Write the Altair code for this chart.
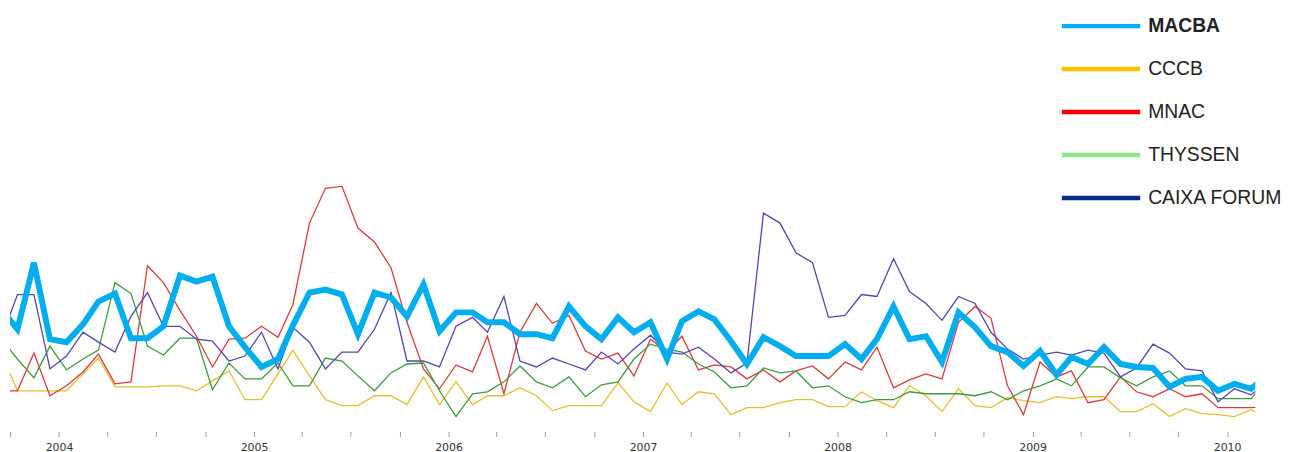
import altair as alt
import pandas as pd

# Mid-month points, Sep 2003 .. Mar 2010 (first/last clipped by the x domain)
MONTHS = [(pd.Timestamp("2003-09-01") + pd.DateOffset(months=k) + pd.Timedelta(days=14)).strftime("%Y-%m-%d")
          for k in range(79)]

SERIES = ["MACBA", "CCCB", "MNAC", "THYSSEN", "CAIXA FORUM"]
LINE_COLORS = ["#00AEEF", "#E8BE30", "#D93B3B", "#3E9A3E", "#5544B0"]
LEGEND_COLORS = ["#00B0F0", "#FFC000", "#FF0000", "#8EE88E", "#0B2A84"]

macba = [120, 100, 167, 90, 87, 105, 128, 136, 91, 91, 103, 154, 148, 153, 103, 82, 62, 70, 104, 137,
         140, 135, 95, 137, 132, 113, 145, 98, 117, 117, 107, 107, 95, 95, 91, 123, 103, 90, 112, 97,
         107, 70, 108, 118, 110, 88, 65, 92, 83, 73, 73, 73, 85, 70, 90, 123, 90, 93, 67, 117,
         102, 83, 77, 63, 78, 54, 72, 65, 82, 65, 62, 61, 42, 50, 52, 38, 45, 40, 52]
cccb = [76, 38, 38, 38, 38, 55, 71, 42, 42, 42, 43, 43, 38, 48, 58, 29, 29, 55, 79, 53,
        29, 23, 23, 33, 33, 24, 52, 24, 47, 24, 33, 33, 41, 33, 18, 23, 23, 23, 46, 27,
        17, 46, 24, 37, 35, 14, 21, 21, 26, 29, 29, 22, 22, 37, 28, 21, 43, 33, 17, 40,
        23, 21, 31, 28, 26, 32, 30, 32, 32, 17, 17, 25, 12, 20, 15, 14, 12, 19, 10]
mnac = [38, 38, 76, 33, 43, 57, 75, 45, 47, 164, 147, 119, 93, 62, 90, 91, 103, 92, 125, 207,
        242, 244, 202, 188, 162, 107, 60, 40, 64, 57, 93, 35, 97, 126, 106, 114, 78, 70, 76, 53,
        90, 77, 93, 59, 64, 62, 50, 59, 47, 58, 63, 50, 67, 59, 82, 41, 49, 55, 50, 107,
        123, 111, 43, 14, 67, 52, 58, 26, 29, 52, 37, 32, 40, 32, 35, 21, 21, 21, 22]
thyssen = [90, 70, 51, 83, 59, 70, 79, 147, 136, 83, 74, 91, 91, 39, 66, 50, 50, 66, 43, 43,
           71, 68, 53, 38, 56, 65, 66, 38, 12, 35, 37, 47, 63, 47, 41, 52, 32, 44, 47, 70,
           85, 80, 77, 65, 57, 41, 43, 61, 56, 58, 41, 43, 32, 26, 29, 29, 37, 35, 35, 35,
           33, 37, 29, 38, 43, 50, 43, 62, 62, 51, 43, 52, 58, 43, 43, 30, 30, 30, 48]
caixa = [91, 135, 135, 60, 73, 97, 87, 77, 113, 137, 103, 103, 90, 88, 68, 73, 97, 60, 102, 87,
         60, 77, 77, 100, 137, 68, 68, 62, 103, 112, 97, 133, 68, 62, 71, 65, 59, 77, 65, 80,
         94, 77, 75, 82, 70, 56, 66, 217, 207, 177, 167, 112, 114, 135, 133, 171, 138, 126, 109, 133,
         126, 97, 80, 70, 74, 77, 74, 79, 76, 52, 61, 85, 76, 60, 58, 27, 40, 34, 46]

QUARTER_TICKS = [(y, m) for y in range(2003, 2011) for m in (1, 4, 7, 10)
                 if (2003, 10) <= (y, m) <= (2010, 1)]

rows = []
for name, vals in zip(SERIES, [macba, cccb, mnac, thyssen, caixa]):
    for d, v in zip(MONTHS, vals):
        rows.append({"date": d, "series": name, "museum": name, "value": v})
df = pd.DataFrame(rows)

legend = alt.Legend(
    orient="none", legendX=1087, legendY=2, title=None,
    symbolType="M-4,0H4", symbolSize=390, symbolStrokeWidth=4.5, symbolOpacity=1,
    labelFont="Liberation Sans", labelFontSize=19.5, labelColor="#222222",
    labelFontWeight=alt.ExprRef("datum.label === 'MACBA' ? 'bold' : 'normal'"),
    labelOffset=35, rowPadding=21.3, padding=0, labelLimit=300,
)

x_axis = alt.Axis(
    values=[alt.DateTime(year=y, month=m, date=1, utc=True) for y, m in QUARTER_TICKS],
    labelExpr="utcmonth(datum.value) == 0 ? utcFormat(datum.value, '%Y') : ''",
    tickSize=5, tickColor="#999999", tickWidth=1, domain=False, grid=False,
    labelFont="DejaVu Sans", labelFontSize=11, labelColor="#333333",
    offset=3, labelPadding=5, title=None, labelOverlap=False, labelFlush=False,
)

x_enc = alt.X("date:T",
              scale=alt.Scale(type="utc",
                              domain=[alt.DateTime(year=2003, month=10, date=1, utc=True),
                                      alt.DateTime(year=2010, month=2, date=23, utc=True)]),
              axis=x_axis)
y_enc = alt.Y("value:Q", scale=alt.Scale(domain=[0, 420]), axis=None)

base = alt.Chart(df).encode(
    x=x_enc, y=y_enc,
    color=alt.Color("series:N", scale=alt.Scale(domain=SERIES, range=LINE_COLORS), legend=None),
)

others = base.transform_filter("datum.series !== 'MACBA'").mark_line(strokeWidth=1.3, clip=True)
main = base.transform_filter("datum.series === 'MACBA'").mark_line(strokeWidth=6, clip=True)

# invisible copy that carries the legend (legend colours differ slightly from the line colours)
key = alt.Chart(df).mark_line(strokeOpacity=0, clip=True).encode(
    x=x_enc, y=y_enc,
    stroke=alt.Stroke("museum:N", scale=alt.Scale(domain=SERIES, range=LEGEND_COLORS), legend=legend),
)

chart = alt.layer(key, others, main).properties(
    width=1255, height=420, background="white",
    autosize=alt.AutoSizeParams(type="none"),
    padding={"left": 2, "top": 2, "right": 40, "bottom": 30},
).configure_view(stroke=None)

chart.save("out.html", embed_options={"renderer": "svg", "actions": False})
